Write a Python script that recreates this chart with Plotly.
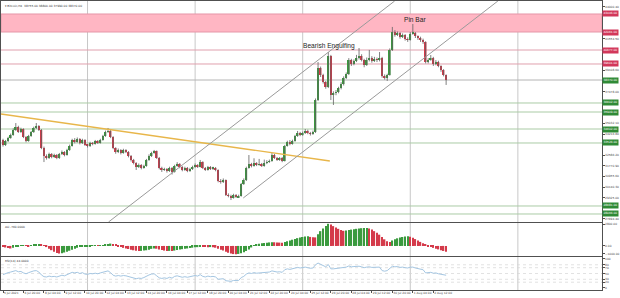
import plotly.graph_objects as go

# ---------------- data ----------------
tick_idx = list(range(0, 169, 8))
tick_labels = ["5 Jul 2021", "6 Jul 20:00", "8 Jul 04:00", "9 Jul 12:00", "10 Jul 20:00",
               "12 Jul 04:00", "13 Jul 12:00", "14 Jul 20:00", "16 Jul 04:00", "17 Jul 12:00",
               "18 Jul 20:00", "20 Jul 04:00", "21 Jul 12:00", "22 Jul 20:00", "24 Jul 04:00",
               "25 Jul 12:00", "26 Jul 20:00", "28 Jul 04:00", "29 Jul 12:00", "30 Jul 20:00",
               "1 Aug 04:00", "2 Aug 12:00"]

first_open = 33756
closes = [33372, 33680, 33910, 34141, 34525, 34756, 34372, 34602, 33987, 33680,
          34064, 34372, 34679, 34833, 34525, 33141, 32526, 32372, 32680, 32449,
          32603, 32372, 32680, 32833, 32603, 32987, 33295, 33756, 33602, 33833,
          33525, 33756, 33372, 33295, 33525, 33448, 33680, 33525, 33756, 34064,
          34372, 34448, 33987, 33141, 32833, 32987, 32756, 32987, 32833, 32526,
          32218, 31987, 31680, 31833, 31603, 31757, 32218, 32526, 32756, 32910,
          32372, 31603, 31449, 31526, 31372, 31603, 31295, 31757, 31910, 31680,
          31449, 31603, 31372, 31526, 31680, 31833, 31680, 32064, 31603, 31449,
          31680, 31526, 31603, 31449, 30603, 30526, 30680, 29526, 29449, 29296,
          29526, 29372, 29449, 30372, 30680, 31603, 31910, 31757, 31987, 31833,
          31910, 31757, 31987, 32064, 32141, 32603, 32372, 32218, 32372, 32141,
          33295, 33602, 33448, 33680, 34064, 34294, 34141, 34294, 34448, 34294,
          34217, 34372, 36832, 39293, 38755, 38216, 37832, 40216, 37217, 37370,
          37447, 37755, 38062, 38524, 38831, 39908, 39600, 39831, 40062, 40216,
          39908, 39524, 39908, 40062, 39831, 39985, 39908, 40062, 38678, 38524,
          38755, 40677, 42061, 41831, 41984, 41677, 41831, 41523, 41446, 41907,
          41990, 41754, 41600, 41446, 41292, 39754, 39908, 40062, 39600, 39754,
          39447, 39140, 38755, 38370]
highs = [33850, 33760, 34000, 34250, 34650, 35060, 34850, 34700, 34650, 34050,
         34150, 34450, 34780, 35060, 34900, 34600, 33250, 32650, 32780, 32750,
         32700, 32680, 32760, 32950, 32900, 33080, 33400, 33850, 33900, 33950,
         33900, 33850, 33820, 33450, 33620, 33600, 33760, 33750, 33850, 34150,
         34480, 34680, 34520, 34050, 33200, 33100, 33050, 33080, 33050, 32900,
         32600, 32300, 32050, 31950, 31900, 31850, 32300, 32650, 32850, 32990,
         32950, 32450, 31700, 31620, 31600, 31700, 31680, 31850, 32050, 31980,
         31750, 31700, 31680, 31620, 31780, 31950, 31900, 32220, 32120, 31680,
         31760, 31750, 31700, 31680, 31500, 30750, 30800, 30720, 29650, 29550,
         29620, 29600, 29550, 30450, 30800, 31700, 32600, 32000, 32350, 32050,
         32300, 31990, 32250, 32200, 32250, 32750, 32680, 32450, 32450, 32450,
         33380, 33700, 33750, 33780, 34150, 34450, 34380, 34400, 34600, 34550,
         34380, 34480, 36950, 39750, 39400, 38850, 38300, 40520, 40300, 37500,
         37600, 37850, 38200, 38650, 38950, 40050, 40000, 39950, 40300, 40830,
         40350, 40000, 40100, 40680, 40200, 40150, 40100, 40520, 40150, 38800,
         38850, 40800, 42450, 42200, 42100, 42050, 41950, 41900, 41650, 42050,
         42680, 42050, 41800, 41700, 41550, 41350, 40050, 40290, 40150, 39900,
         39850, 39500, 39200, 38800]
lows = [33250, 33300, 33600, 33850, 34080, 34450, 34300, 34300, 33900, 33580,
        33620, 34000, 34300, 34600, 34450, 33050, 32060, 32250, 32300, 32350,
        32380, 32280, 32300, 32600, 32500, 32550, 32920, 33250, 33500, 33550,
        33420, 33450, 33300, 33180, 33220, 33350, 33400, 33450, 33480, 33700,
        34000, 34300, 33900, 33050, 32700, 32750, 32650, 32700, 32750, 32420,
        32100, 31880, 31450, 31600, 31500, 31550, 31700, 32150, 32450, 32700,
        32300, 31500, 31300, 31380, 31250, 31300, 31100, 31250, 31700, 31580,
        31350, 31380, 31280, 31300, 31450, 31620, 31600, 31650, 31520, 31380,
        31400, 31450, 31450, 31350, 30500, 30400, 30450, 29450, 29350, 29140,
        29250, 29300, 29300, 29400, 30300, 30600, 31550, 31650, 31700, 31750,
        31780, 31680, 31700, 31900, 32000, 32080, 32300, 32150, 32150, 32050,
        32100, 33250, 33350, 33400, 33620, 34000, 34050, 34080, 34220, 34200,
        34100, 34150, 34300, 36750, 38600, 38100, 37700, 37750, 36830, 36450,
        37200, 37350, 37650, 37950, 38450, 38750, 39450, 39500, 39750, 39950,
        39800, 39350, 39450, 39800, 39700, 39750, 39750, 39800, 38550, 38400,
        38300, 38700, 40600, 41700, 41750, 41550, 41600, 41400, 41300, 41400,
        41850, 41600, 41450, 41300, 41150, 39650, 39650, 39850, 39450, 39500,
        39350, 39000, 38650, 37990]
ao_values = [-100, -200, -280, -330, -250, -150, -60, 20, 40, 10,
             -20, 30, 120, 200, 260, 200, 50, -150, -350, -550,
             -750, -900, -980, -930, -850, -750, -620, -480, -350, -230,
             -150, -90, -60, -40, -20, 10, 30, 20, 40, 90,
             180, 260, 300, 250, 120, -20, -150, -250, -320, -400,
             -480, -560, -620, -650, -640, -600, -560, -480, -380, -330,
             -360, -450, -540, -600, -650, -640, -660, -600, -520, -470,
             -420, -380, -330, -280, -230, -180, -160, -100, -110, -140,
             -160, -150, -180, -230, -350, -480, -600, -750, -880, -980,
             -1050, -1060, -1030, -950, -830, -650, -450, -200, 80, 200,
             280, 330, 380, 420, 450, 480, 470, 440, 430, 420,
             500, 600, 700, 800, 900, 1000, 1080, 1150, 1200, 1230,
             1160, 1120, 1100, 1500, 1900, 2250, 2550, 2850, 2750, 2550,
             2380, 2200, 2050, 1950, 1980, 2050, 2100, 2160, 2200, 2250,
             2280, 2300, 2320, 2250, 2100, 1900, 1700, 1450, 1150, 850,
             600, 520, 700, 850, 980, 1080, 1150, 1200, 1240, 1180,
             1050, 880, 700, 520, 330, 150, -50, -150, -250, -350,
             -450, -550, -650, -760]
rsi_values = [46, 50, 53, 55, 58, 60, 56, 57, 52, 49,
              53, 57, 59, 60, 55, 45, 39, 38, 41, 39,
              40, 38, 42, 44, 42, 46, 49, 54, 52, 54,
              50, 53, 48, 47, 50, 49, 51, 49, 52, 55,
              58, 59, 53, 44, 41, 43, 41, 43, 42, 39,
              36, 34, 32, 34, 33, 36, 41, 45, 48, 49,
              42, 35, 33, 35, 33, 37, 34, 40, 42, 39,
              37, 39, 37, 39, 41, 43, 41, 46, 40, 38,
              41, 39, 40, 38, 30, 30, 32, 25, 24, 23,
              26, 25, 26, 36, 40, 48, 52, 50, 53, 51,
              52, 51, 53, 54, 55, 59, 57, 55, 56, 54,
              63, 66, 64, 66, 69, 71, 69, 70, 72, 70,
              68, 69, 80, 86, 82, 77, 73, 81, 66, 66,
              67, 68, 69, 71, 72, 76, 73, 74, 75, 75,
              73, 70, 72, 73, 71, 72, 71, 72, 60, 58,
              60, 69, 75, 73, 74, 71, 72, 70, 69, 72,
              72, 69, 67, 65, 63, 52, 53, 54, 51, 52,
              49, 47, 45, 44]

zone_low, zone_high = 42061, 43446
resist_levels = [40677, 39601]
support_levels = [36602, 35909, 34602, 33526, 28681, 28066]
week_lines = [33, 75, 117, 159, 201]
trend_x, trend_y = [-0.8, 127.6], [35756, 32141]
chan_up_x, chan_up_y = [41.2, 152.9], [27450, 44445]
chan_lo_x, chan_lo_y = [93.8, 193.2], [29296, 44445]
notes_text = ["Bearish Engulfing", "Pin Bar"]
notes_x = [127.4, 160.9]
notes_y = [40985, 43061]
price_tick0, price_step = 42369.8, 815.3
ao_ticks = [2800, 0, -1000]
rsi_ticks = [100, 80, 70, 50, 30, 20, 0]
rsi_levels = [80, 70, 50, 30, 20]

# ---------------- styling ----------------
GREEN = '#3a9a3e'
RED = '#d43a4a'
WICK = '#606060'
FRAME = '#505050'
GRID = '#c8c8c8'
FONT = 'DejaVu Sans, Liberation Sans, Arial'
SMALL = 2.9
YMIN, YMAX = 27450, 44445

n = len(closes)
idx = list(range(n))
opens = [first_open] + closes[:-1]

fig = go.Figure()

# wicks
wx, wy = [], []
for i in idx:
    wx += [i, i, None]
    wy += [lows[i], highs[i], None]
fig.add_trace(go.Scatter(x=wx, y=wy, mode='lines', line=dict(color=WICK, width=0.8),
                         xaxis='x', yaxis='y', hoverinfo='skip'))

for is_bull, col in [(True, GREEN), (False, RED)]:
    sel = [i for i in idx if (closes[i] >= opens[i]) == is_bull]
    base = [min(opens[i], closes[i]) for i in sel]
    hgt = [max(abs(closes[i] - opens[i]), 40) for i in sel]
    fig.add_trace(go.Bar(x=sel, y=hgt, base=base, width=0.64,
                         marker=dict(color=col, line=dict(width=0)),
                         xaxis='x', yaxis='y'))

# AO histogram
ao_colors = [RED if (i == 0 or ao_values[i] < ao_values[i - 1]) else GREEN for i in idx]
fig.add_trace(go.Bar(x=idx, y=ao_values, width=0.55, marker=dict(color=ao_colors, line=dict(width=0)),
                     xaxis='x2', yaxis='y2'))

# RSI line
fig.add_trace(go.Scatter(x=idx, y=rsi_values, mode='lines', line=dict(color='#a4c6e2', width=1),
                         xaxis='x3', yaxis='y3'))

shapes = []
for w in week_lines:
    shapes.append(dict(type='line', xref='x', yref='paper', x0=w, x1=w, y0=0, y1=1,
                       line=dict(color=GRID, width=1), layer='below'))
shapes.append(dict(type='rect', xref='paper', yref='y', x0=0, x1=1, y0=zone_low, y1=zone_high,
                   fillcolor='#ffb6c3', line=dict(color='#e597a8', width=1), layer='below'))
for lv in resist_levels:
    shapes.append(dict(type='line', xref='paper', yref='y', x0=0, x1=1, y0=lv, y1=lv,
                       line=dict(color='#e0a0ae', width=1), layer='below'))
for lv in support_levels:
    shapes.append(dict(type='line', xref='paper', yref='y', x0=0, x1=1, y0=lv, y1=lv,
                       line=dict(color='#aacba5', width=1), layer='below'))
shapes.append(dict(type='line', xref='paper', yref='y', x0=0, x1=1, y0=closes[-1], y1=closes[-1],
                   line=dict(color='#b4b4b4', width=1), layer='below'))
shapes.append(dict(type='line', xref='x', yref='y', x0=trend_x[0], x1=trend_x[1],
                   y0=trend_y[0], y1=trend_y[1], line=dict(color='#e8b64a', width=1.4)))
for cx, cy in [(chan_up_x, chan_up_y), (chan_lo_x, chan_lo_y)]:
    shapes.append(dict(type='line', xref='x', yref='y', x0=cx[0], x1=cx[1], y0=cy[0], y1=cy[1],
                       line=dict(color='#9a9a9a', width=1)))
for lv in rsi_levels:
    shapes.append(dict(type='line', xref='paper', yref='y3', x0=0, x1=1, y0=lv, y1=lv,
                       line=dict(color='#d4d4d4', width=0.7, dash='dot'), layer='below'))

annotations = []
red_boxes = [zone_high, zone_low] + resist_levels
green_boxes = support_levels + [closes[-1]]
for lv in red_boxes:
    annotations.append(dict(x=1, xref='paper', y=lv, yref='y', xanchor='left', yanchor='middle',
                            text='%.2f' % lv, showarrow=False, bgcolor='#d2375a', borderpad=0.4,
                            font=dict(size=SMALL, color='white', family=FONT)))
for lv in green_boxes:
    annotations.append(dict(x=1, xref='paper', y=lv, yref='y', xanchor='left', yanchor='middle',
                            text='%.2f' % lv, showarrow=False, bgcolor='#2f8a36', borderpad=0.4,
                            font=dict(size=SMALL, color='white', family=FONT)))
for t, x, y in zip(notes_text, notes_x, notes_y):
    annotations.append(dict(x=x, y=y, xref='x', yref='y', text=t, showarrow=False,
                            font=dict(size=6.6, color='#1e1e1e', family='Liberation Sans, Arial')))
title_txt = '▾ Bitcoin,H4  %.2f %.2f %.2f %.2f' % (opens[-1], highs[-1], lows[-1], closes[-1])
annotations.append(dict(x=0.003, y=1, xref='paper', yref='y domain', xanchor='left', yanchor='top',
                        yshift=-0.5, text=title_txt, showarrow=False,
                        font=dict(size=SMALL, color='#333', family=FONT)))
annotations.append(dict(x=0.003, y=1, xref='paper', yref='y2 domain', xanchor='left', yanchor='top',
                        text='AO %.4f' % ao_values[-1], showarrow=False,
                        font=dict(size=SMALL, color='#333', family=FONT)))
annotations.append(dict(x=0.003, y=1, xref='paper', yref='y3 domain', xanchor='left', yanchor='top',
                        text='RSI(14) %.4f' % rsi_values[-1], showarrow=False,
                        font=dict(size=SMALL, color='#333', family=FONT)))

# price scale ticks (scale labels hidden under the level boxes, as the terminal does)
all_boxes = red_boxes + green_boxes
k0 = int((YMIN - price_tick0) // price_step) + 1
k1 = int((YMAX - price_tick0) // price_step)
price_ticks = [price_tick0 + k * price_step for k in range(k0, k1 + 1)]
price_ticks = [v for v in price_ticks if all(abs(v - b) > 330 for b in all_boxes)]

xr = [-0.78, 233.85]
xcommon = dict(range=xr, showgrid=False, zeroline=False, showline=True, mirror=True,
               linecolor=FRAME, linewidth=1, fixedrange=True)
ycommon = dict(side='right', showgrid=False, zeroline=False, showline=True, mirror=True,
               linecolor=FRAME, linewidth=1, ticks='outside', ticklen=1.5, tickcolor=FRAME,
               tickfont=dict(size=SMALL, color='#444', family=FONT))

fig.update_layout(
    width=620, height=298,
    margin=dict(l=0, r=17, t=1, b=8),
    paper_bgcolor='white', plot_bgcolor='white',
    showlegend=False, barmode='overlay',
    xaxis=dict(domain=[0, 1], anchor='y', showticklabels=False, **xcommon),
    xaxis2=dict(domain=[0, 1], anchor='y2', matches='x', showticklabels=False, **xcommon),
    xaxis3=dict(domain=[0, 1], anchor='y3', matches='x', tickvals=tick_idx, ticktext=tick_labels,
                tickangle=0, ticklabelposition='outside right', ticks='outside', ticklen=2,
                tickcolor=FRAME, tickfont=dict(size=SMALL, color='#444', family=FONT), **xcommon),
    yaxis=dict(domain=[0.2353, 1], anchor='x', range=[YMIN, YMAX], tickvals=price_ticks,
               tickformat='.2f', **ycommon),
    yaxis2=dict(domain=[0.1176, 0.2318], anchor='x2', range=[-1300, 2950], tickvals=ao_ticks,
                tickformat='.2f', **ycommon),
    yaxis3=dict(domain=[0, 0.1142], anchor='x3', range=[-6.9, 106.9], tickvals=rsi_ticks, **ycommon),
    shapes=shapes, annotations=annotations,
)

fig.write_html('out.html', config={'displayModeBar': False})
